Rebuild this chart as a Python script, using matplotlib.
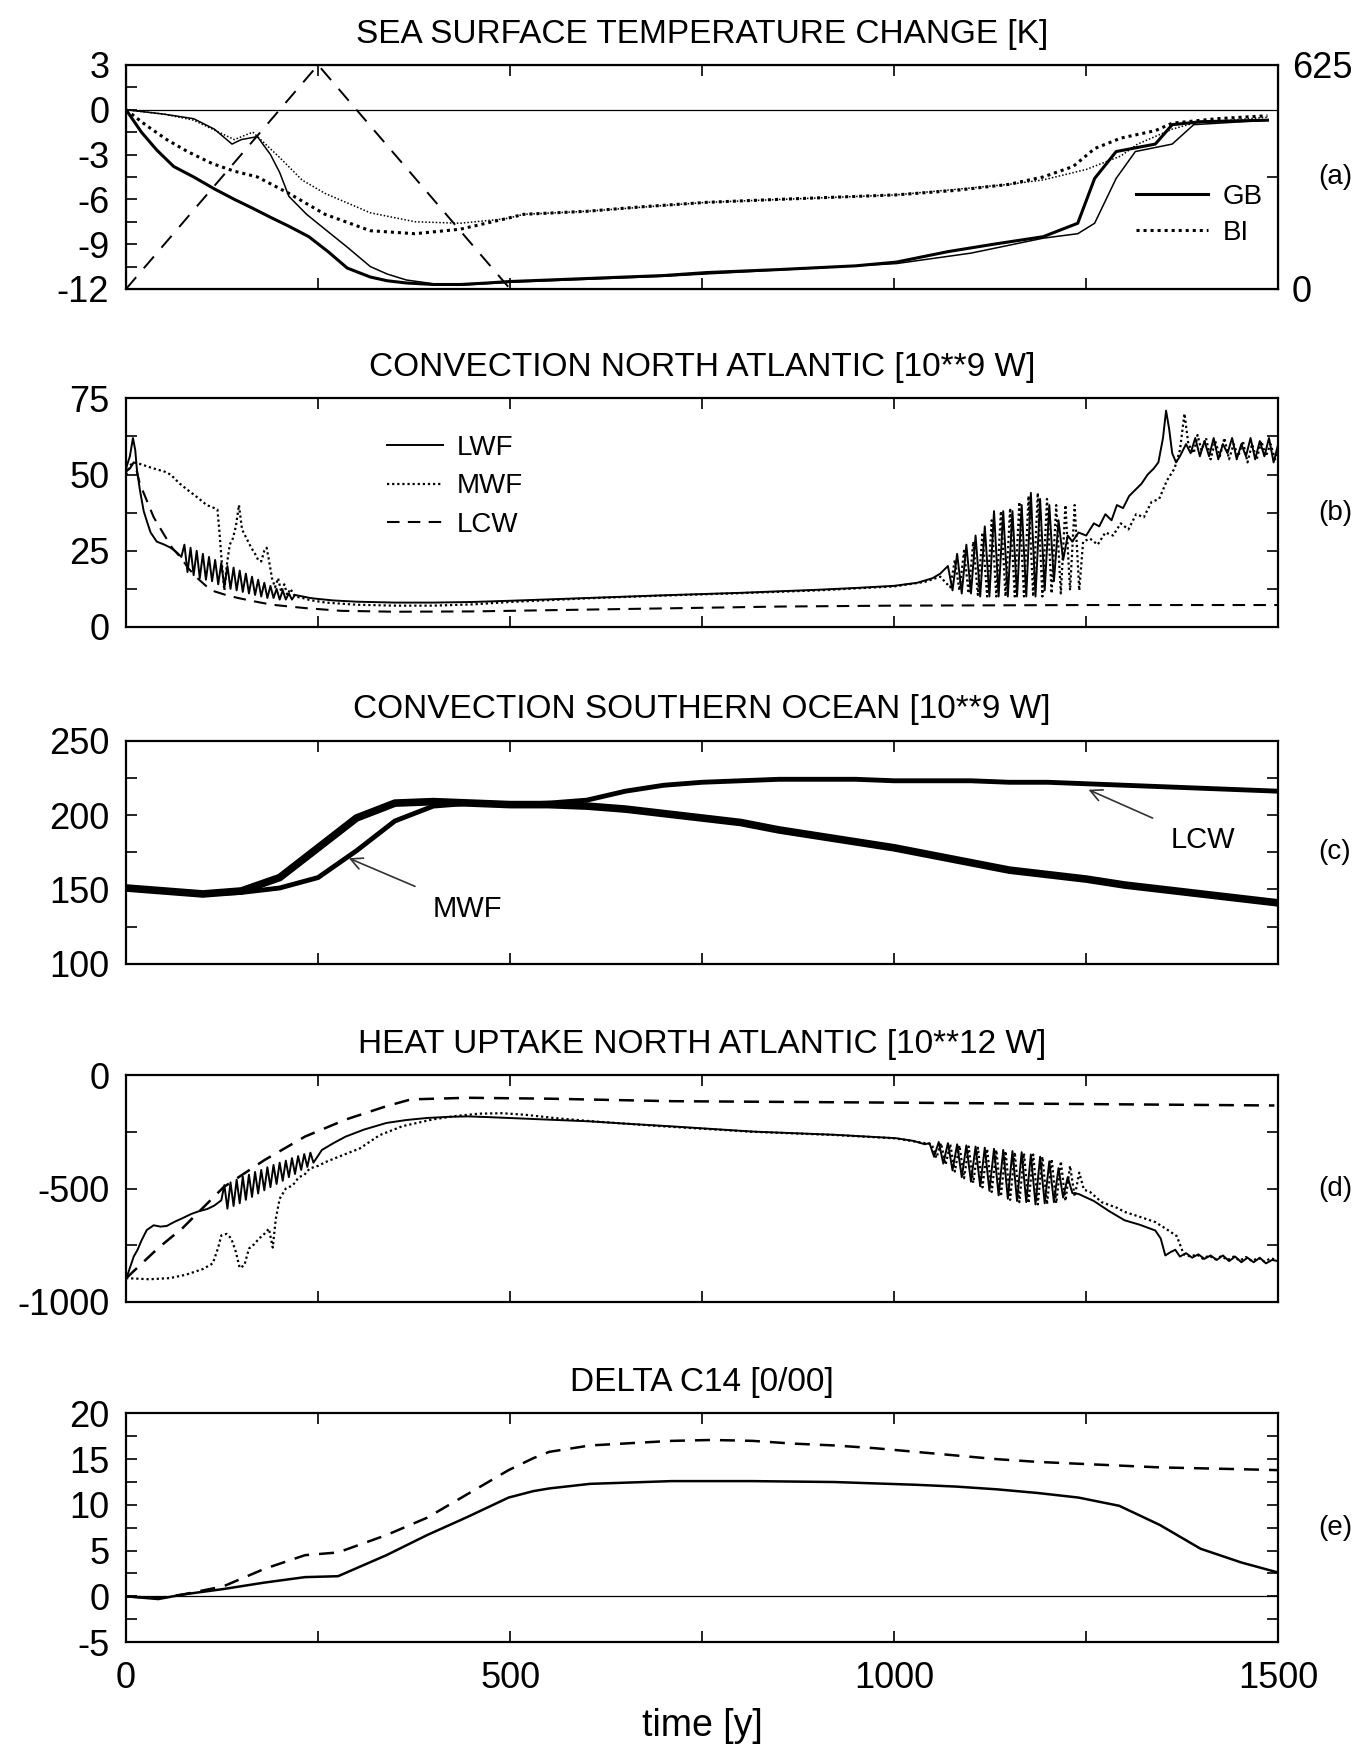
import matplotlib
matplotlib.use('Agg')
import matplotlib.pyplot as plt
from matplotlib.ticker import MultipleLocator, FixedLocator

plt.rcParams['font.family'] = ['Liberation Sans', 'DejaVu Sans']
plt.rcParams['axes.unicode_minus'] = False

# --- (a) sea surface temperature change [K] ---
sst_gb1_t = [0, 20, 40, 62, 88, 115, 141, 165, 188, 212, 238, 263, 288, 318, 340, 365, 400, 435,
             470, 500, 600, 700, 756, 850, 950, 1003, 1070, 1130, 1194, 1239, 1261, 1289, 1340,
             1362, 1400, 1486]
sst_gb1 = [0, -1.5, -2.7, -3.8, -4.5, -5.3, -6.0, -6.6, -7.2, -7.8, -8.5, -9.5, -10.6, -11.2,
           -11.45, -11.6, -11.7, -11.7, -11.6, -11.5, -11.3, -11.1, -10.9, -10.7, -10.45, -10.2,
           -9.5, -9.0, -8.5, -7.6, -4.6, -2.8, -2.3, -1.0, -0.8, -0.7]
sst_gb2_t = [0, 50, 88, 115, 138, 150, 171, 188, 200, 212, 235, 259, 288, 318, 340, 365, 400, 435,
             500, 700, 1003, 1100, 1194, 1239, 1261, 1289, 1314, 1362, 1390, 1486]
sst_gb2 = [0, -0.3, -0.6, -1.3, -2.3, -2.0, -1.8, -3.0, -4.2, -5.8, -7.0, -8.0, -9.2, -10.5, -11.0,
           -11.4, -11.65, -11.75, -11.55, -11.15, -10.3, -9.6, -8.6, -8.3, -7.6, -4.6, -2.8, -2.3,
           -1.0, -0.7]
sst_bi1_t = [0, 25, 53, 80, 112, 140, 171, 212, 259, 318, 376, 435, 494, 518, 600, 671, 756, 850,
             1003, 1080, 1149, 1194, 1233, 1261, 1295, 1340, 1362, 1420, 1486]
sst_bi1 = [0, -1.0, -2.0, -2.8, -3.6, -4.1, -4.5, -5.6, -7.0, -8.1, -8.3, -8.0, -7.3, -7.0, -6.8,
           -6.5, -6.2, -6.0, -5.7, -5.4, -5.0, -4.5, -3.8, -2.6, -1.9, -1.4, -0.9, -0.6, -0.4]
sst_bi2_t = [0, 50, 88, 141, 165, 200, 229, 259, 318, 376, 435, 494, 518, 600, 756, 1003, 1149,
             1194, 1250, 1295, 1317, 1362, 1390, 1486]
sst_bi2 = [0, -0.3, -0.7, -2.0, -1.5, -3.2, -4.7, -5.6, -6.9, -7.5, -7.6, -7.3, -7.0, -6.8, -6.2,
           -5.7, -5.0, -4.7, -4.0, -3.1, -2.3, -1.3, -0.9, -0.5]
forcing_t = [0, 250, 500]
forcing = [0, 625, 0]

# --- (b) convection North Atlantic [10**9 W] ---
nab_lwf_t = [0, 5, 9, 12, 14, 18, 23, 28, 32, 36, 40, 50, 58, 66, 72,
             76, 80, 84, 88, 92, 96, 100, 104, 108, 112, 116, 120, 124, 128, 132, 136, 140, 144,
             148, 152, 156, 160, 164, 168, 172, 176, 180, 184, 188, 192, 196, 200, 204, 208, 212,
             216, 220, 230, 240, 250, 270, 300, 350, 400, 450, 500, 600, 700, 800, 900, 950, 1000,
             1030, 1050, 1060,
             1070, 1076, 1082, 1088, 1094, 1100, 1106, 1112, 1118, 1124, 1130, 1136, 1142, 1148,
             1154, 1160, 1166, 1172, 1178, 1184, 1190, 1196, 1202, 1208, 1214, 1220, 1226,
             1232, 1240, 1250, 1260, 1267, 1275, 1283, 1290, 1298, 1306, 1314, 1322, 1330, 1338,
             1344, 1350, 1354, 1358, 1362, 1367, 1372, 1380, 1386, 1392, 1398, 1404, 1410, 1416,
             1422, 1428, 1434, 1440, 1446, 1452, 1458, 1464, 1470, 1476, 1482, 1488, 1494, 1500]
nab_lwf = [52, 56, 62, 58, 52, 45, 38, 34, 31, 29.5, 28, 27, 26, 24.5, 23,
           27, 18, 26, 17, 25, 16, 24, 15.5, 23, 15, 22, 14, 21, 13, 20, 12.5, 19.5, 12,
           18.5, 11.5, 17.5, 11, 16.5, 10.5, 15.5, 10, 14.5, 9.5, 13.5, 9.5, 12.5, 9, 12, 9, 11,
           9, 10.5, 10, 9.5, 9.2, 8.7, 8.3, 8.0, 8.0, 8.2, 8.6, 9.5, 10.4, 11.2, 12.2, 12.8, 13.5,
           14.5, 16, 17.5,
           20, 12, 24, 11, 27, 11, 30, 10, 33, 10, 38, 10, 38, 10,
           38, 10, 40, 10, 44, 10, 42, 12, 40, 15, 35, 22, 30,
           28, 31, 30, 34, 33, 37, 35, 40, 39, 43, 45, 47, 50, 52,
           54, 62, 71, 65, 57, 54, 56, 60, 57, 62, 56, 61, 56, 62,
           55, 60, 57, 62, 55, 60, 56, 62, 55, 61, 56, 62, 54, 60]
nab_mwf_t = [0, 5, 10, 18, 30, 36, 50, 58, 70, 80, 93, 105, 115, 119, 122, 125, 128, 131, 135,
             139, 143, 147, 151, 155, 159, 163, 168, 172, 176, 180, 183, 186, 190, 194, 198, 202,
             206, 210, 214, 220, 230, 240, 260, 300, 350, 400, 450, 500, 600, 700, 800, 900, 1000,
             1040, 1060,
             1073, 1079, 1085, 1091, 1097, 1103, 1109, 1115, 1121, 1127, 1133, 1139, 1145, 1151,
             1157, 1163, 1169, 1175, 1181, 1187, 1193, 1199, 1205, 1211, 1217, 1223, 1229, 1235,
             1241,
             1246, 1255, 1265, 1275, 1285, 1295, 1305, 1315, 1325, 1335, 1345, 1355, 1365, 1372,
             1378, 1383, 1390, 1395, 1400, 1406, 1412, 1418, 1424, 1430, 1436, 1442, 1448, 1454,
             1460, 1466, 1472, 1478, 1484, 1490, 1496, 1500]
nab_mwf = [50, 53, 54, 53.5, 52.5, 52, 51, 50, 47, 45, 42.5, 40, 39, 38.5, 30, 20, 12, 20, 27,
           29, 33, 40, 32, 30, 28, 26, 24, 22, 21.5, 25, 26, 22, 16, 13, 16, 11.5,
           14, 10.5, 12.5, 10, 9.5, 8.8, 8, 7.3, 7.0, 7.0, 7.4, 8.2, 9.4, 10.3, 11.1, 12.0, 13.3,
           14.8, 16.5,
           13, 22, 12, 25, 11, 28, 10.5, 31, 10, 35, 10, 38, 10, 39,
           10, 41, 10, 43, 10, 44, 10, 42, 11, 40, 11, 40, 12, 40,
           12,
           28, 29, 27, 31, 30, 34, 32, 37, 36, 41, 42, 48, 52, 58,
           70, 60, 57, 63, 58, 62, 55, 61, 56, 62, 55, 60, 56, 61,
           54, 60, 55, 61, 56, 60, 55, 58]
nab_lcw_t = [0, 5, 10, 14, 18, 27, 36, 49, 60, 71, 82, 93, 104, 115, 130, 146, 167, 190, 233, 280,
             350, 450, 550, 650, 750, 850, 1000, 1250, 1500]
nab_lcw = [51, 52, 54, 51, 47, 41.5, 36, 30.5, 26, 22.8, 19, 16, 13.5, 11.7, 10.5, 9.5, 8.4, 7.3,
           6.2, 5.3, 5.0, 5.1, 5.5, 5.9, 6.3, 6.7, 7.0, 7.2, 7.2]

# --- (c) convection Southern Ocean [10**9 W] ---
so_t = [0, 50, 100, 150, 200, 250, 300, 350, 400, 450, 500, 550, 600, 650, 700, 750, 800, 850,
        900, 950, 1000, 1050, 1100, 1150, 1200, 1250, 1300, 1350, 1400, 1450, 1500]
so_lwf = [151, 149, 147, 149, 158, 178, 198, 208, 209, 208, 207, 207, 206, 204, 201, 198, 195,
          190, 186, 182, 178, 173, 168, 163, 160, 157, 153, 150, 147, 144, 141]
so_mwf = [151, 149, 147, 148, 151, 158, 176, 196, 206, 208, 207, 207, 206, 204, 201, 198, 195,
          190, 186, 182, 178, 173, 168, 163, 160, 157, 153, 150, 147, 144, 141]
so_lcw = [151, 149, 147, 149, 158, 178, 198, 208, 209, 208, 207, 208, 210, 216, 220, 222, 223,
          224, 224, 224, 223, 223, 223, 222, 222, 221, 220, 219, 218, 217, 216]

# --- (d) heat uptake North Atlantic [10**12 W] ---
hu_lwf_t = [0, 5, 10, 15, 20, 27, 36, 45, 53, 63, 74, 85, 95, 106, 115, 124,
            128, 132, 136, 140, 144, 148, 152, 156, 160, 164, 168, 172, 176, 180, 184, 188, 192,
            196, 200, 204, 208, 212, 216, 220, 224, 228, 232, 236, 240, 244,
            255, 270, 286, 310, 339, 365, 392, 420, 445, 470, 498, 550, 604, 650, 710, 760, 816,
            870, 922, 960, 1002, 1025, 1040,
            1046, 1052, 1058, 1064, 1070, 1076, 1082, 1088, 1094, 1100, 1106, 1112, 1118, 1124,
            1130, 1136, 1142, 1148, 1154, 1160, 1166, 1172, 1178, 1184, 1190, 1196, 1202, 1208,
            1214, 1220, 1226, 1232,
            1240, 1260, 1280, 1300, 1320, 1340, 1347, 1353, 1360, 1366, 1372, 1380, 1388, 1396,
            1404, 1412, 1420, 1428, 1436, 1444, 1452, 1460, 1468, 1476, 1484, 1492, 1500]
hu_lwf = [-900, -850, -800, -770, -730, -683, -662, -668, -665, -647, -630, -612, -600, -590,
          -575, -552,
          -485, -589, -473, -577, -461, -565, -448, -550, -439, -537, -427, -522, -418, -508,
          -406, -494, -396, -480, -386, -466, -377, -450, -366, -436, -357, -418, -348, -405,
          -342, -386,
          -330, -300, -271, -240, -211, -198, -189, -184, -182, -185, -189, -196, -204, -214,
          -226, -237, -249, -256, -263, -270, -278, -290, -305,
          -300, -360, -295, -390, -300, -420, -305, -450, -310, -470, -315, -490, -320, -510,
          -325, -530, -330, -545, -335, -555, -340, -560, -350, -570, -360, -565, -380, -560,
          -410, -540, -450, -520,
          -524, -555, -600, -640, -660, -685, -720, -795, -780, -770, -800, -785, -805, -790,
          -810, -795, -815, -795, -820, -800, -825, -805, -825, -805, -830, -815, -820]
hu_mwf_t = [0, 30, 57, 78, 100, 113, 120, 124, 131, 137, 143, 148, 154, 160, 167, 173, 180, 186,
            191, 195, 200, 208, 217, 225, 232, 239, 250, 260, 282, 304, 330, 360, 400, 430, 460,
            490, 520, 560, 604, 700, 816, 922, 1002, 1040,
            1049, 1055, 1061, 1067, 1073, 1079, 1085, 1091, 1097, 1103, 1109, 1115, 1121, 1127,
            1133, 1139, 1145, 1151, 1157, 1163, 1169, 1175, 1181, 1187, 1193, 1199, 1205, 1211,
            1217, 1223, 1229, 1235, 1241, 1247,
            1255, 1270, 1290, 1300, 1320, 1340, 1355, 1368, 1377, 1386, 1394, 1402, 1410, 1418,
            1426, 1434, 1442, 1450, 1458, 1466, 1474, 1482, 1490, 1500]
hu_mwf = [-895, -900, -895, -880, -855, -830, -760, -707, -700, -720, -780, -850, -839, -765,
          -745, -721, -700, -677, -760, -633, -545, -500, -486, -450, -440, -412, -400, -383,
          -353, -324, -265, -225, -195, -180, -170, -168, -175, -190, -203, -226, -250, -264,
          -279, -300,
          -305, -365, -300, -395, -305, -425, -310, -455, -315, -475, -320, -495, -325, -515,
          -330, -535, -335, -550, -340, -560, -345, -565, -350, -570, -360, -570, -370, -565,
          -380, -555, -400, -535, -430, -505,
          -515, -560, -585, -603, -625, -648, -680, -710, -790, -800, -790, -810, -795, -812,
          -798, -815, -800, -818, -802, -820, -805, -822, -808, -815]
hu_lcw_t = [0, 42, 74, 127, 180, 233, 286, 339, 371, 445, 551, 710, 1028, 1495]
hu_lcw = [-896, -762, -673, -494, -375, -271, -196, -137, -107, -100, -104, -115, -122, -134]

# --- (e) delta C14 [0/00] ---
c14_t = [0, 42, 74, 127, 180, 233, 276, 339, 392, 445, 498, 530, 551, 604, 710, 763, 816, 869,
         922, 975, 1028, 1081, 1134, 1187, 1240, 1293, 1346, 1399, 1452, 1500]
c14_solid = [0, -0.3, 0.2, 0.8, 1.5, 2.1, 2.2, 4.5, 6.7, 8.7, 10.8, 11.5, 11.8, 12.3, 12.6, 12.6,
             12.6, 12.55, 12.5, 12.35, 12.2, 12.0, 11.7, 11.3, 10.8, 9.9, 7.8, 5.2, 3.7, 2.6]
c14_dashed = [0, -0.2, 0.2, 1.1, 3.0, 4.5, 4.8, 6.7, 8.6, 11.2, 13.8, 15.1, 15.8, 16.5, 17.0,
              17.1, 17.0, 16.7, 16.5, 16.2, 15.8, 15.4, 15.0, 14.7, 14.5, 14.3, 14.1, 14.0, 13.9,
              13.8]

titles = ['SEA SURFACE TEMPERATURE CHANGE [K]', 'CONVECTION NORTH ATLANTIC [10**9 W]',
          'CONVECTION SOUTHERN OCEAN [10**9 W]', 'HEAT UPTAKE NORTH ATLANTIC [10**12 W]',
          'DELTA C14 [0/00]']
panel_tags = ['(a)', '(b)', '(c)', '(d)', '(e)']

LW_THICK = 2.2
LW_THIN = 1.1
DOT = (0, (1, 1.3))
DASH = (0, (6, 4))

fig = plt.figure(figsize=(13.7, 17.45), dpi=100)
bottoms = [0.8344, 0.6407, 0.4476, 0.2539, 0.0590]
heights = [0.1284, 0.131, 0.128, 0.130, 0.131]
axes = [fig.add_axes([0.092, b, 0.841, h]) for b, h in zip(bottoms, heights)]


def style(ax, ylim, major, minor, right=True):
    ax.set_xlim(0, 1500)
    ax.set_ylim(*ylim)
    ax.xaxis.set_major_locator(MultipleLocator(500))
    ax.xaxis.set_minor_locator(MultipleLocator(250))
    ax.yaxis.set_major_locator(MultipleLocator(major))
    ax.yaxis.set_minor_locator(MultipleLocator(minor))
    ax.tick_params(which='both', direction='in', length=8, width=1.2, top=True, right=right,
                   labelsize=26)
    ax.tick_params(axis='y', pad=12)
    ax.tick_params(axis='x', pad=14)
    for s in ax.spines.values():
        s.set_linewidth(1.6)


for ax, title, tag in zip(axes, titles, panel_tags):
    ax.set_title(title, fontsize=24, pad=16)
    ax.text(1.035, 0.5, tag, transform=ax.transAxes, fontsize=20, ha='left', va='center')

# (a)
ax = axes[0]
style(ax, (-12, 3), 3, 1.5, right=False)
ax.axhline(0, color='black', lw=0.9)
ax.plot(sst_gb1_t, sst_gb1, color='black', lw=LW_THICK, label='GB')
ax.plot(sst_gb2_t, sst_gb2, color='black', lw=LW_THIN)
ax.plot(sst_bi1_t, sst_bi1, color='black', lw=LW_THICK, ls=DOT, label='BI')
ax.plot(sst_bi2_t, sst_bi2, color='black', lw=LW_THIN, ls=DOT)
ax.legend(loc='upper left', bbox_to_anchor=(0.855, 0.58), frameon=False, fontsize=20,
          handlelength=2.6, labelspacing=0.35, handletextpad=0.5)
ax2 = ax.twinx()
ax2.set_ylim(0, 625)
ax2.yaxis.set_major_locator(FixedLocator([0, 625]))
ax2.yaxis.set_minor_locator(FixedLocator([312.5]))
ax2.tick_params(which='both', direction='in', length=8, width=1.2, labelsize=26, pad=10)
ax2.plot(forcing_t, forcing, color='black', lw=1.4, ls=(0, (8, 6)))
ax.set_xticklabels([])

# (b)
ax = axes[1]
style(ax, (0, 75), 25, 12.5)
ax.plot(nab_lwf_t, nab_lwf, color='black', lw=1.4, label='LWF')
ax.plot(nab_mwf_t, nab_mwf, color='black', lw=1.6, ls=DOT, label='MWF')
ax.plot(nab_lcw_t, nab_lcw, color='black', lw=1.5, ls=DASH, label='LCW')
ax.legend(loc='upper left', bbox_to_anchor=(0.205, 0.95), frameon=False, fontsize=20,
          handlelength=2.0, labelspacing=0.45, handletextpad=0.5)
ax.set_xticklabels([])

# (c)
ax = axes[2]
style(ax, (100, 250), 50, 25)
ax.plot(so_t, so_lcw, color='black', lw=3.5)
ax.plot(so_t, so_mwf, color='black', lw=3.5)
ax.plot(so_t, so_lwf, color='black', lw=5.5)
arrow = dict(arrowstyle='->', lw=1.2, color='#333333', shrinkA=12, shrinkB=0)
ax.annotate('MWF', xy=(290, 171), xytext=(445, 137), fontsize=21, ha='center', va='center',
            arrowprops=arrow)
ax.annotate('LCW', xy=(1253, 217), xytext=(1402, 183), fontsize=21, ha='center', va='center',
            arrowprops=arrow)
ax.set_xticklabels([])

# (d)
ax = axes[3]
style(ax, (-1000, 0), 500, 250)
ax.plot(hu_lwf_t, hu_lwf, color='black', lw=1.4)
ax.plot(hu_mwf_t, hu_mwf, color='black', lw=1.6, ls=DOT)
ax.plot(hu_lcw_t, hu_lcw, color='black', lw=1.8, ls=DASH)
ax.set_xticklabels([])

# (e)
ax = axes[4]
style(ax, (-5, 20), 5, 2.5)
ax.axhline(0, color='black', lw=0.9)
ax.plot(c14_t, c14_solid, color='black', lw=1.8)
ax.plot(c14_t, c14_dashed, color='black', lw=1.8, ls=DASH)
ax.set_xlabel('time [y]', fontsize=27, labelpad=8)

fig.savefig('out.png', dpi=100)
